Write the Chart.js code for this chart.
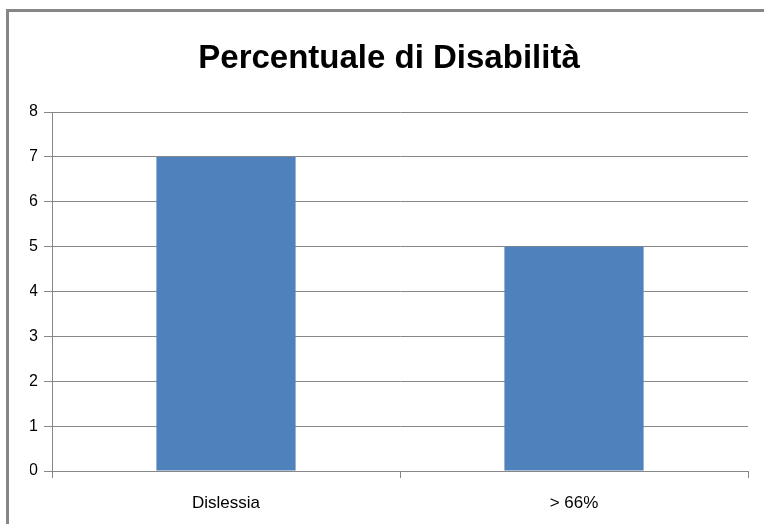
<!DOCTYPE html>
<html>
<head>
<meta charset="utf-8">
<script src="https://cdn.jsdelivr.net/npm/chart.js@4"></script>
<style>
html,body{margin:0;padding:0;background:#fff;}
#wrap{width:764px;height:524px;position:relative;}
</style>
</head>
<body>
<div id="wrap"><canvas id="c" width="764" height="524"></canvas></div>
<script>
const categories = ["Dislessia", "> 66%"];
const values = [7, 5];
const yTicks = [0, 1, 2, 3, 4, 5, 6, 7, 8];
const titleText = "Percentuale di Disabilità";

const frame = {
  id: 'frame',
  afterDraw(chart) {
    const ctx = chart.ctx;
    ctx.save();
    ctx.strokeStyle = '#868686';
    ctx.lineWidth = 3;
    ctx.beginPath();
    ctx.moveTo(7.5, 530);
    ctx.lineTo(7.5, 10.5);
    ctx.lineTo(770, 10.5);
    ctx.stroke();
    ctx.restore();
  }
};

new Chart(document.getElementById('c'), {
  type: 'bar',
  data: {
    labels: categories,
    datasets: [{
      data: values,
      backgroundColor: '#4F81BD',
      borderWidth: 0,
      barPercentage: 0.4,
      categoryPercentage: 1.0
    }]
  },
  plugins: [frame],
  options: {
    responsive: false,
    animation: false,
    devicePixelRatio: 1,
    layout: { padding: { left: 30, right: 16, top: 0, bottom: 0 } },
    plugins: {
      legend: { display: false },
      tooltip: { enabled: false },
      title: {
        display: true,
        text: titleText,
        color: '#000',
        font: { family: '"Liberation Sans", Arial, sans-serif', size: 33, weight: 'bold' },
        padding: { top: 39, bottom: 33.4 }
      }
    },
    scales: {
      y: {
        min: 0, max: 8,
        afterBuildTicks(axis) { axis.ticks = yTicks.map(v => ({ value: v })); },
        afterFit(axis) { axis.width = 22; },
        grid: { color: '#878787', lineWidth: 1, tickLength: 8, drawTicks: true },
        border: { color: '#878787', width: 1 },
        ticks: {
          color: '#000',
          padding: 6,
          font: { family: '"Liberation Sans", Arial, sans-serif', size: 16 }
        }
      },
      x: {
        afterFit(axis) { axis.height = 53; },
        grid: { drawOnChartArea: false, color: '#878787', tickLength: 7, offset: true },
        border: { color: '#878787', width: 1 },
        ticks: {
          color: '#000',
          padding: 15,
          font: { family: '"Liberation Sans", Arial, sans-serif', size: 17 }
        }
      }
    }
  }
});
</script>
</body>
</html>
